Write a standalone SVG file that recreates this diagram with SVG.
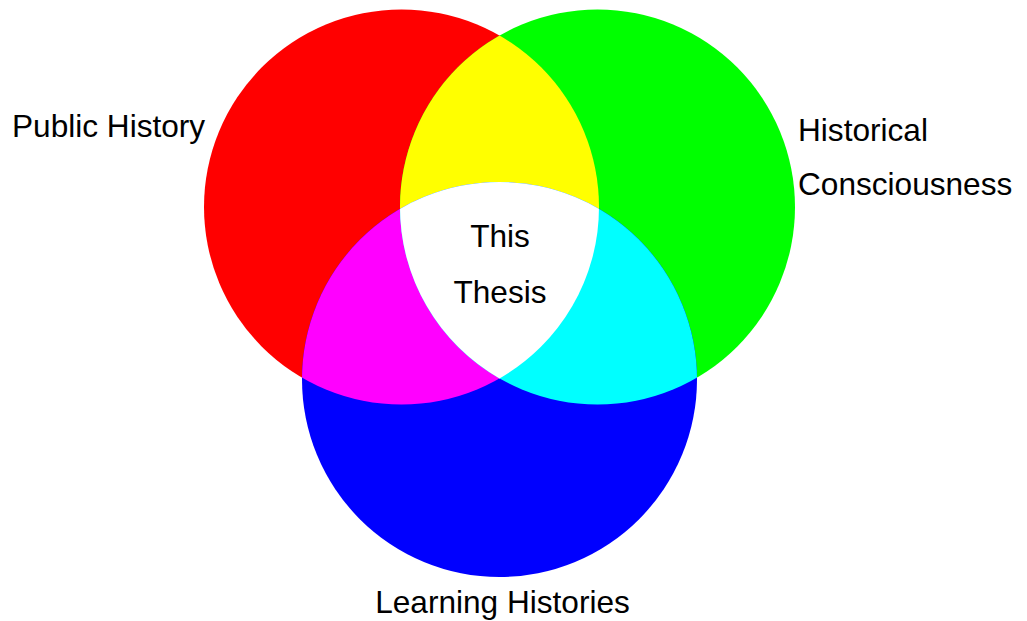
<svg xmlns="http://www.w3.org/2000/svg" width="1027" height="621" viewBox="0 0 1027 621">
<style>
text{font-family:"Liberation Sans",Arial,sans-serif;font-size:31.6px;fill:#000}
</style>
<defs>
<clipPath id="cR"><circle cx="401.5" cy="207" r="197.5"/></clipPath>
<clipPath id="cG"><circle cx="597.5" cy="207" r="197.5"/></clipPath>
<clipPath id="cRG" clip-path="url(#cR)"><circle cx="597.5" cy="207" r="197.5"/></clipPath>
</defs>
<rect width="1027" height="621" fill="#fff"/>
<g id="public-history">
<circle cx="401.5" cy="207" r="197.5" fill="#f00"/>
<text x="12" y="137">Public History</text>
</g>
<g id="historical-consciousness">
<circle cx="597.5" cy="207" r="197.5" fill="#0f0"/>
<text x="798" y="141">Historical</text>
<text x="798" y="195">Consciousness</text>
</g>
<g id="learning-histories">
<circle cx="499.5" cy="379.5" r="197.5" fill="#00f"/>
<text x="502.5" y="613" text-anchor="middle">Learning Histories</text>
</g>
<g id="overlaps">
<circle cx="597.5" cy="207" r="197.5" fill="#ff0" clip-path="url(#cR)"/>
<circle cx="499.5" cy="379.5" r="197.5" fill="#f0f" clip-path="url(#cR)"/>
<circle cx="499.5" cy="379.5" r="197.5" fill="#0ff" clip-path="url(#cG)"/>
</g>
<g id="this-thesis">
<circle cx="499.5" cy="379.5" r="197.5" fill="#fff" clip-path="url(#cRG)"/>
<text x="500" y="247" text-anchor="middle">This</text>
<text x="500" y="303" text-anchor="middle">Thesis</text>
</g>
</svg>
